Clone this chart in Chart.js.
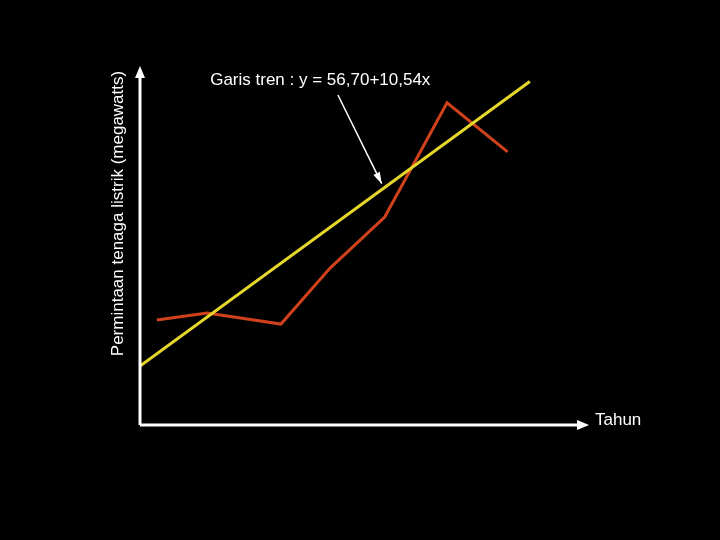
<!DOCTYPE html>
<html>
<head>
<meta charset="UTF-8">
<script src="https://cdn.jsdelivr.net/npm/chart.js"></script>
<style>
  body { margin: 0; background: #000; }
  #wrap { width: 720px; height: 540px; }
</style>
</head>
<body>
<div id="wrap"><canvas id="c"></canvas></div>
<script>
// data (x in year units, y in megawatts)
const tahun = [0.28, 1.12, 2.35, 3.17, 4.08, 5.12, 6.13];
const permintaan = [67.8, 69.5, 66.8, 80.3, 92.6, 120.1, 108.3];
const trenX = [0, 6.5];
const a = 56.70, b = 10.54;
const judulY = 'Permintaan tenaga listrik (megawatts)';
const judulX = 'Tahun';
const teksTren = 'Garis tren : y = 56,70+10,54x';

const axesPlugin = {
  id: 'axes',
  afterDraw(chart) {
    const { ctx, chartArea: ca, scales: { x, y } } = chart;
    ctx.save();
    ctx.strokeStyle = '#fff'; ctx.fillStyle = '#fff'; ctx.lineWidth = 3;
    const x0 = ca.left, y0 = ca.bottom;
    ctx.beginPath(); ctx.moveTo(x0, y0); ctx.lineTo(x0, ca.top + 4);
    ctx.moveTo(x0, y0); ctx.lineTo(ca.right - 4, y0); ctx.stroke();
    ctx.beginPath(); ctx.moveTo(x0, ca.top - 4); ctx.lineTo(x0 - 5, ca.top + 8); ctx.lineTo(x0 + 5, ca.top + 8); ctx.fill();
    ctx.beginPath(); ctx.moveTo(ca.right + 4, y0); ctx.lineTo(ca.right - 8, y0 - 5); ctx.lineTo(ca.right - 8, y0 + 5); ctx.fill();
    ctx.font = '17px "Liberation Sans", Arial, sans-serif';
    ctx.textBaseline = 'middle';
    ctx.fillText(judulX, ca.right + 10, y0 - 5);
    ctx.fillText(teksTren, x.getPixelForValue(1.17), 80);
    ctx.save();
    ctx.translate(x0 - 22, (ca.top + y0) / 2 - 34);
    ctx.rotate(-Math.PI / 2); ctx.textAlign = 'center';
    ctx.fillText(judulY, 0, 0);
    ctx.restore();
    // arrow to trend line
    const tx = x.getPixelForValue(4.03), ty = y.getPixelForValue(a + b * 4.03) - 6;
    const sx = x.getPixelForValue(3.3), sy = 95;
    ctx.lineWidth = 1.5;
    ctx.beginPath(); ctx.moveTo(sx, sy); ctx.lineTo(tx, ty); ctx.stroke();
    const ang = Math.atan2(ty - sy, tx - sx);
    ctx.beginPath(); ctx.moveTo(tx, ty);
    ctx.lineTo(tx - 12 * Math.cos(ang - 0.3), ty - 12 * Math.sin(ang - 0.3));
    ctx.lineTo(tx - 12 * Math.cos(ang + 0.3), ty - 12 * Math.sin(ang + 0.3));
    ctx.fill();
    ctx.restore();
  }
};

new Chart(document.getElementById('c'), {
  type: 'line',
  data: {
    datasets: [
      { data: trenX.map(v => ({ x: v, y: a + b * v })), borderColor: '#e6d82a', borderWidth: 3, pointRadius: 0 },
      { data: tahun.map((v, i) => ({ x: v, y: permintaan[i] })), borderColor: '#d0421b', borderWidth: 3, pointRadius: 0 }
    ]
  },
  options: {
    responsive: true, maintainAspectRatio: false, animation: false,
    layout: { padding: { left: 140, right: 135, top: 70, bottom: 115 } },
    plugins: { legend: { display: false }, tooltip: { enabled: false } },
    scales: {
      x: { type: 'linear', min: 0, max: 7.42, display: false },
      y: { min: 42.5, max: 128, display: false }
    }
  },
  plugins: [axesPlugin]
});
</script>
</body>
</html>
